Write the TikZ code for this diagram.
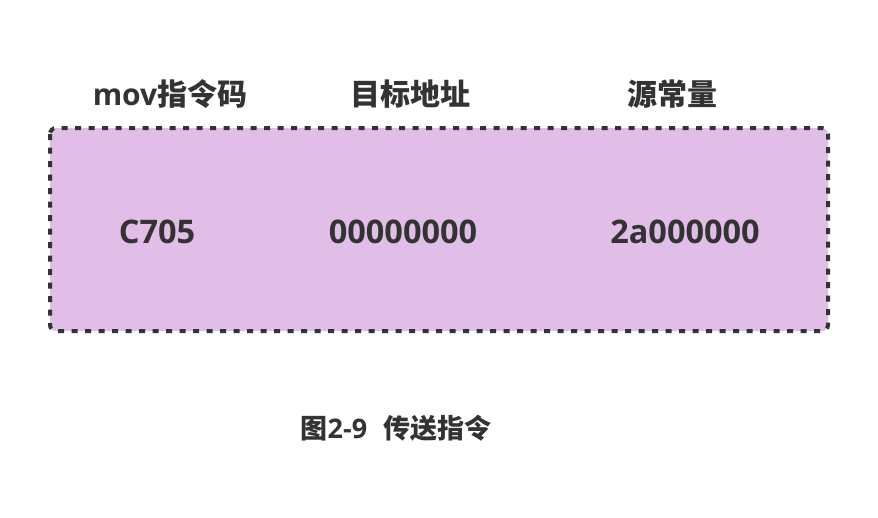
\documentclass[tikz,border=0pt]{standalone}
\usepackage{fontspec}
\setmainfont{Open Sans}
\newfontfamily\cjk{Noto Sans CJK SC}
\definecolor{movInk}{HTML}{333333}
\definecolor{movFill}{HTML}{E1BEE7}
\tikzset{
  mov box/.style={draw=movInk, fill=movFill, line width=4pt, dash pattern=on 6pt off 7.5pt, rounded corners=6pt},
  mov head/.style={font=\fontsize{30}{34}\selectfont\bfseries, text=movInk, inner sep=0pt},
  mov value/.style={font=\fontsize{32.5}{36}\selectfont\bfseries, text=movInk, inner sep=0pt},
  mov caption/.style={font=\fontsize{27}{30}\selectfont\bfseries, text=movInk, inner sep=0pt},
}
\begin{document}
\begin{tikzpicture}[x=1pt,y=-1pt]
  \useasboundingbox (0,0) rectangle (878,517);
  \draw[mov box] (50,128) rectangle (828,331);
  \node[mov head] (opHead) at (170,94) {mov{\cjk 指令码}};
  \node[mov head] (dstHead) at (410,94) {\cjk 目标地址};
  \node[mov head] (srcHead) at (672,94) {\cjk 源常量};
  \node[mov value] (opVal) at (157,232) {C705};
  \node[mov value] (dstVal) at (403,232) {00000000};
  \node[mov value] (srcVal) at (685,232) {2a000000};
  \node[mov caption] (figCap) at (396,428) {{\cjk 图}2-9\hspace{0.6em}{\cjk 传送指令}};
\end{tikzpicture}
\end{document}
